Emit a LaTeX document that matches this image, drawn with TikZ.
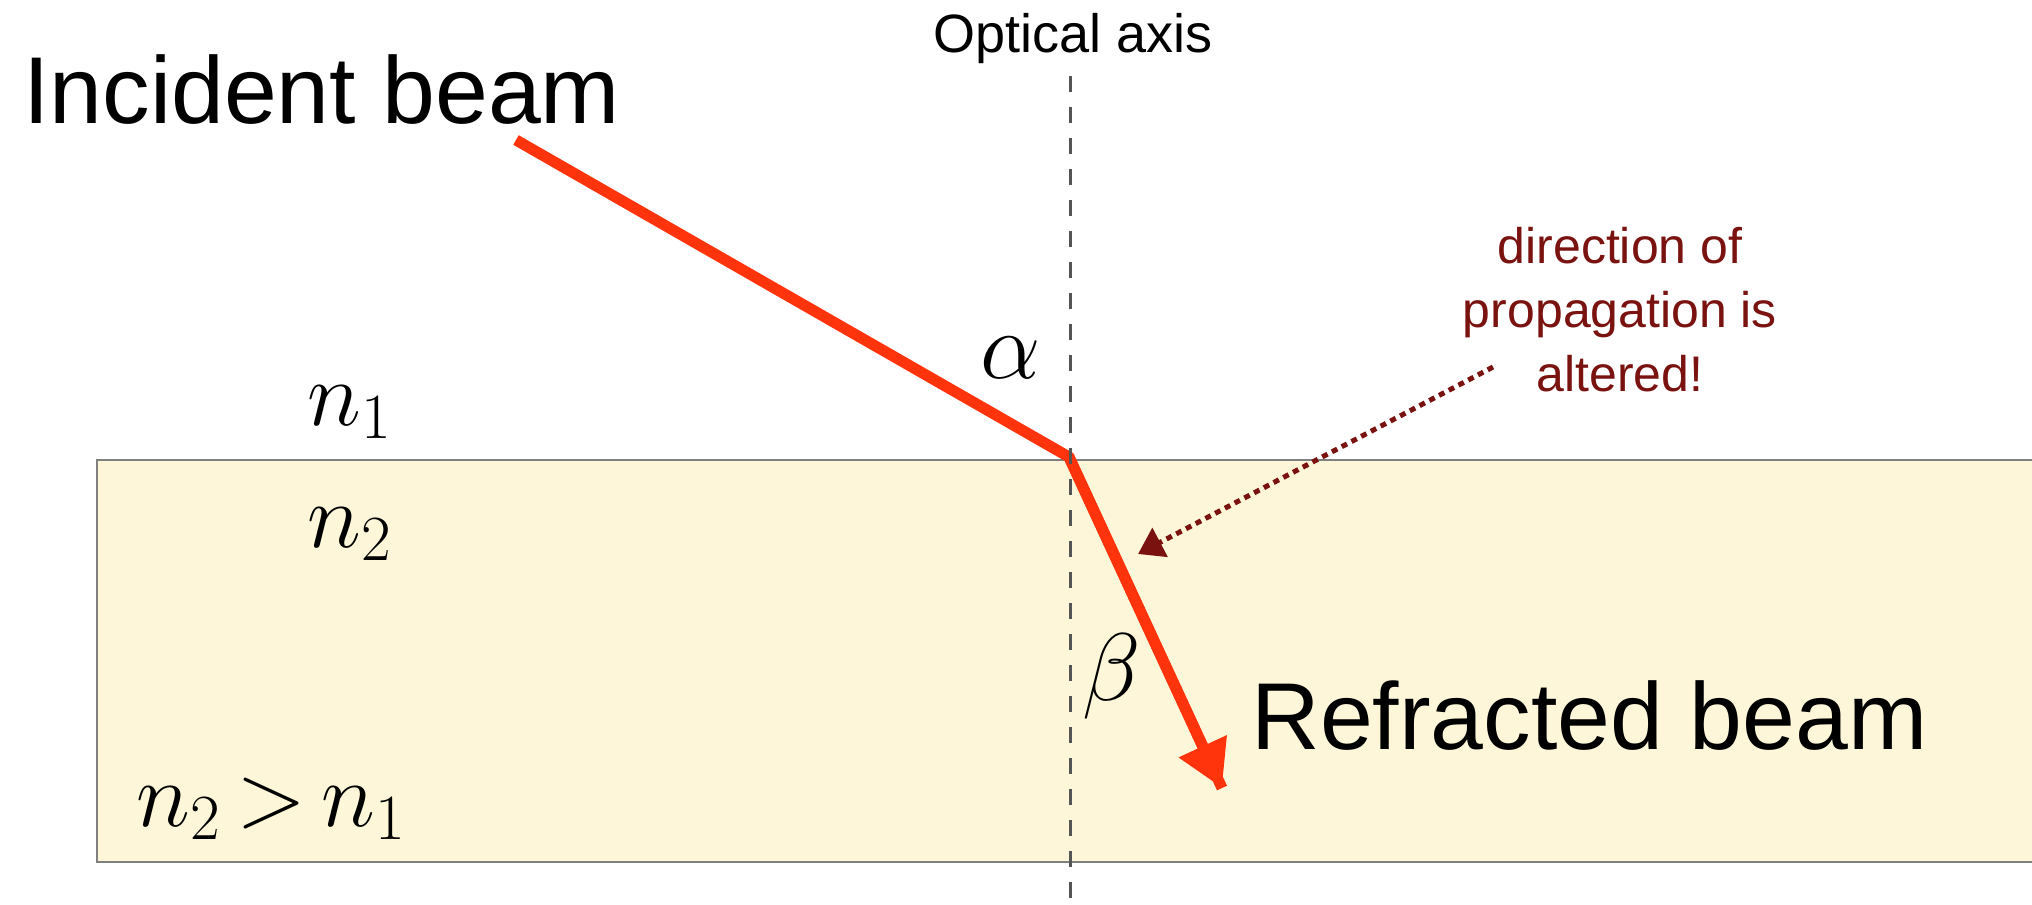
\RequirePackage{fix-cm}
\documentclass[tikz,border=0pt]{standalone}
\usepackage{fontspec}
\setmainfont{Liberation Sans}
\usetikzlibrary{arrows.meta}
\definecolor{beamred}{RGB}{255,51,12}
\definecolor{mediumfill}{RGB}{253,246,216}
\definecolor{notered}{RGB}{122,18,15}
\definecolor{axisgray}{RGB}{85,85,85}
\tikzset{
  beam/.style={line width=5.5pt, color=beamred, line join=miter},
  axisline/.style={line width=1.5pt, color=axisgray, dash pattern=on 8pt off 7.5pt},
  pointer/.style={line width=2.5pt, color=notered, dash pattern=on 3pt off 2.5pt},
  bigtext/.style={font=\fontsize{47.5}{52}\selectfont, inner sep=0pt},
  smalltext/.style={font=\fontsize{27}{32}\selectfont, inner sep=0pt},
  note/.style={color=notered, align=center, font=\fontsize{25}{32}\selectfont, inner sep=0pt},
  mathlabel/.style={font=\fontsize{46}{50}\selectfont, inner sep=0pt},
  anglelabel/.style={font=\fontsize{48}{52}\selectfont, inner sep=0pt},
}
\begin{document}
\begin{tikzpicture}[x=0.5pt,y=-0.5pt]
    \useasboundingbox (0,0) rectangle (2032,904);
    \clip (0,0) rectangle (2032,904);
    \fill[white] (0,0) rectangle (2032,904);
    % the denser medium
    \draw[line width=0.75pt, color=gray, fill=mediumfill] (97,460) rectangle (2045,862);
    % beam: in, hit point, out
    \coordinate (src) at (516,140);
    \coordinate (hit) at (1069,457);
    \coordinate (tip) at (1222,788);
    \draw[beam] (src) -- (hit) -- (tip);
    \draw[beam, -{Triangle[length=23pt,width=25pt]}] (hit) -- (tip);
    % optical axis on top of the beam
    \node[smalltext, anchor=base] (axislabel) at (1073,53) {Optical axis};
    \coordinate (axistop) at (1070,76);
    \coordinate (axisbot) at (1070,904);
    \draw[axisline] (axistop) -- (axisbot);
    \node[bigtext, anchor=base west] (incident) at (23,123) {Incident beam};
    \node[bigtext, anchor=base west] (refracted) at (1251,749) {Refracted beam};
    \node[mathlabel, anchor=base west] (none) at (307,425) {$n_1$};
    \node[mathlabel, anchor=base west] (ntwo) at (307,547) {$n_2$};
    \node[mathlabel, anchor=base west] (ncomp) at (136,826) {$n_2\,{>}\,n_1$};
    \node[anglelabel, anchor=base west] (alpha) at (980,378) {$\alpha$};
    \node[anglelabel, anchor=base west] (beta) at (1082,700) {$\beta$};
    \node[note, anchor=base] (remark) at (1620,391) {direction of\\propagation is\\altered!};
    \coordinate (remarkfoot) at (1493,367);
    \coordinate (bend) at (1138,554);
    \draw[pointer, -{Triangle[length=12.5pt,width=16pt]}] (remarkfoot) -- (bend);
\end{tikzpicture}
\end{document}
